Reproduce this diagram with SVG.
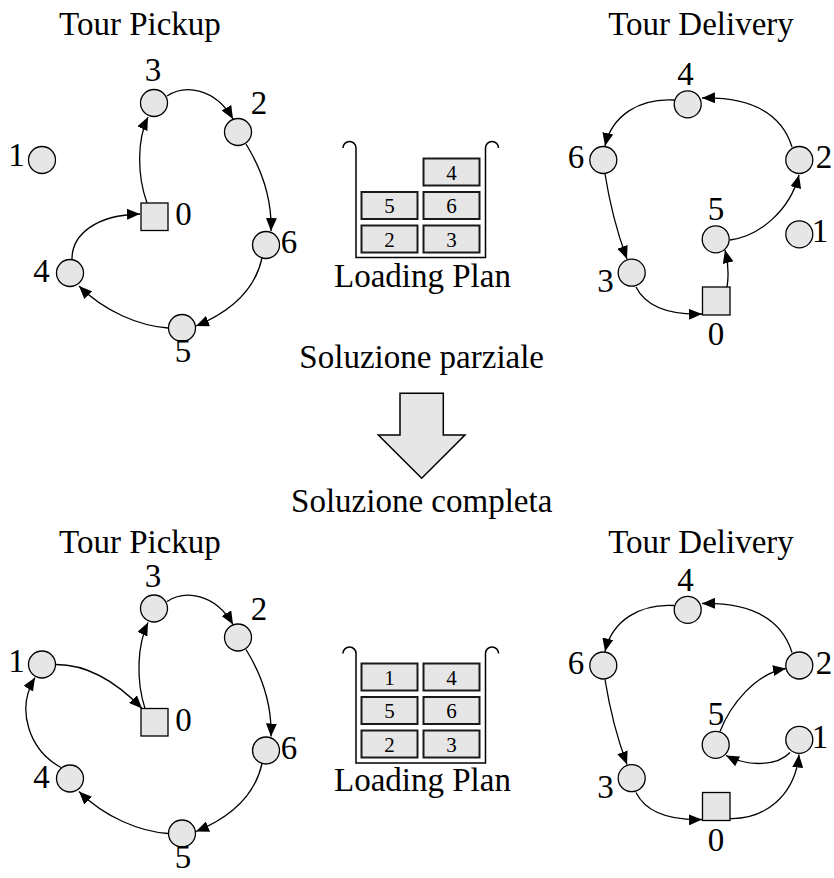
<svg xmlns="http://www.w3.org/2000/svg" width="834" height="878" viewBox="0 0 834 878">
  <defs>
    <marker id="arrow" markerUnits="userSpaceOnUse" viewBox="0 0 13 11" markerWidth="13" markerHeight="11" refX="13" refY="5.5" orient="auto">
      <path d="M0,0 L13,5.5 L0,11 z" fill="#000"/>
    </marker>
  </defs>
  <style>
    text { font-family: "Liberation Serif", "Times New Roman", serif; fill: #000; }
    .title { font-size: 33px; text-anchor: middle; }
    .lbl { font-size: 33px; text-anchor: middle; }
    .box-lbl { font-size: 21px; text-anchor: middle; }
    .node { fill: #e6e6e6; stroke: #000; stroke-width: 1.3; }
    .edge { fill: none; stroke: #000; stroke-width: 1.3; marker-end: url(#arrow); }
    .crate { fill: none; stroke: #000; stroke-width: 1.5; }
    .box { fill: #e6e6e6; stroke: #1a1a1a; stroke-width: 2; }
    .big-arrow { fill: #e6e6e6; stroke: #000; stroke-width: 1.5; }
  </style>

  <!-- ===== Partial solution ===== -->
  <g id="partial">
    <text class="title" x="140" y="35">Tour Pickup</text>
    <text class="title" x="701" y="35">Tour Delivery</text>

    <!-- pickup tour -->
    <g id="pickup-top-edges">
      <path class="edge" d="M147,203 C137,175 137,140 148,117"/>
      <path class="edge" d="M167,96 C185,84 215,88 233,119"/>
      <path class="edge" d="M246,144 C262,170 272,200 271,231"/>
      <path class="edge" d="M262,258 C255,290 230,312 196,326"/>
      <path class="edge" d="M168,328 C140,326 105,312 79,286"/>
      <path class="edge" d="M72,259 C72,235 95,215 140,214"/>
    </g>
    <g id="p1-n0"><rect class="node" x="141" y="203" width="27" height="27.5"/><text class="lbl" x="183.5" y="225">0</text></g>
    <g id="p1-n1"><circle class="node" cx="42" cy="160" r="13.5"/><text class="lbl" x="16.5" y="166">1</text></g>
    <g id="p1-n2"><circle class="node" cx="238" cy="132" r="13.5"/><text class="lbl" x="259" y="114">2</text></g>
    <g id="p1-n3"><circle class="node" cx="154" cy="103" r="13.5"/><text class="lbl" x="153" y="81">3</text></g>
    <g id="p1-n4"><circle class="node" cx="70" cy="273" r="13.5"/><text class="lbl" x="41.5" y="282">4</text></g>
    <g id="p1-n5"><circle class="node" cx="182" cy="328" r="13.5"/><text class="lbl" x="183" y="362">5</text></g>
    <g id="p1-n6"><circle class="node" cx="266" cy="245" r="13.5"/><text class="lbl" x="289" y="253">6</text></g>

    <!-- loading plan -->
    <g id="plan-top">
      <path class="crate" d="M343,148 A6.5,6.5 0 0 1 356,148 L356,257.5 L485.5,257.5 L485.5,148 A6.5,6.5 0 0 1 498.5,148"/>
      <g><rect class="box" x="423.5" y="158.5" width="56" height="27"/><text class="box-lbl" x="451.5" y="179.5">4</text></g>
      <g><rect class="box" x="361.5" y="192" width="56" height="27"/><text class="box-lbl" x="389.5" y="213">5</text></g>
      <g><rect class="box" x="423.5" y="192" width="56" height="27"/><text class="box-lbl" x="451.5" y="213">6</text></g>
      <g><rect class="box" x="361.5" y="225.5" width="56" height="27"/><text class="box-lbl" x="389.5" y="246.5">2</text></g>
      <g><rect class="box" x="423.5" y="225.5" width="56" height="27"/><text class="box-lbl" x="451.5" y="246.5">3</text></g>
      <text class="title" x="422.5" y="287">Loading Plan</text>
    </g>

    <!-- delivery tour -->
    <g id="delivery-top-edges">
      <path class="edge" d="M727,287 C729,275 728,262 725,250"/>
      <path class="edge" d="M730,240 C760,236 790,210 799,175"/>
      <path class="edge" d="M792,147 C782,115 755,97 702,98"/>
      <path class="edge" d="M674,100 C640,98 612,115 605,146"/>
      <path class="edge" d="M605,174 C610,205 618,235 627,259"/>
      <path class="edge" d="M636,287 C645,305 665,315 702,314"/>
    </g>
    <g id="d1-n0"><rect class="node" x="702.5" y="287" width="27.5" height="28"/><text class="lbl" x="716" y="345">0</text></g>
    <g id="d1-n1"><circle class="node" cx="799.3" cy="234.3" r="13.5"/><text class="lbl" x="820" y="242">1</text></g>
    <g id="d1-n2"><circle class="node" cx="799.3" cy="160" r="13.5"/><text class="lbl" x="824" y="168">2</text></g>
    <g id="d1-n3"><circle class="node" cx="631.7" cy="272.7" r="13.5"/><text class="lbl" x="605.5" y="292">3</text></g>
    <g id="d1-n4"><circle class="node" cx="687.7" cy="104.3" r="13.5"/><text class="lbl" x="685.5" y="85">4</text></g>
    <g id="d1-n5"><circle class="node" cx="715.7" cy="239.3" r="13.5"/><text class="lbl" x="716" y="219.5">5</text></g>
    <g id="d1-n6"><circle class="node" cx="603.3" cy="160" r="13.5"/><text class="lbl" x="576" y="168">6</text></g>
  </g>

  <!-- ===== Transition ===== -->
  <text class="title" x="421.7" y="368">Soluzione parziale</text>
  <polygon id="step-arrow" class="big-arrow" points="400,393.3 443.3,393.3 443.3,435 465,435 421.7,478.3 378.3,435 400,435"/>
  <text class="title" x="421.7" y="511.5">Soluzione completa</text>

  <!-- ===== Complete solution ===== -->
  <text class="title" x="140" y="553">Tour Pickup</text>
  <text class="title" x="701" y="553">Tour Delivery</text>

  <g id="complete" transform="translate(0,505.5)">
    <!-- pickup tour -->
    <g id="pickup-bottom-edges">
      <path class="edge" d="M145,203 C136,175 137,140 148,117"/>
      <path class="edge" d="M167,96 C185,84 215,88 233,119"/>
      <path class="edge" d="M246,144 C262,170 272,200 271,231"/>
      <path class="edge" d="M262,258 C255,290 230,312 196,326"/>
      <path class="edge" d="M168,328 C140,326 105,312 79,286"/>
      <path class="edge" d="M61,262 C30,245 15,205 35,172"/>
      <path class="edge" d="M56,159 C85,159 115,175 142,203"/>
    </g>
    <g id="p2-n0"><rect class="node" x="141" y="203" width="27" height="27.5"/><text class="lbl" x="183.5" y="225">0</text></g>
    <g id="p2-n1"><circle class="node" cx="42" cy="159" r="13.5"/><text class="lbl" x="16.5" y="166">1</text></g>
    <g id="p2-n2"><circle class="node" cx="238" cy="132" r="13.5"/><text class="lbl" x="259" y="114">2</text></g>
    <g id="p2-n3"><circle class="node" cx="154" cy="103" r="13.5"/><text class="lbl" x="153" y="81">3</text></g>
    <g id="p2-n4"><circle class="node" cx="70" cy="273" r="13.5"/><text class="lbl" x="41.5" y="282">4</text></g>
    <g id="p2-n5"><circle class="node" cx="182" cy="328" r="13.5"/><text class="lbl" x="183" y="362">5</text></g>
    <g id="p2-n6"><circle class="node" cx="266" cy="245" r="13.5"/><text class="lbl" x="289" y="253">6</text></g>

    <!-- loading plan -->
    <g id="plan-bottom">
      <path class="crate" d="M343,148 A6.5,6.5 0 0 1 356,148 L356,257.5 L485.5,257.5 L485.5,148 A6.5,6.5 0 0 1 498.5,148"/>
      <g><rect class="box" x="361.5" y="158" width="56" height="27"/><text class="box-lbl" x="389.5" y="179">1</text></g>
      <g><rect class="box" x="423.5" y="158" width="56" height="27"/><text class="box-lbl" x="451.5" y="179">4</text></g>
      <g><rect class="box" x="361.5" y="191.5" width="56" height="27"/><text class="box-lbl" x="389.5" y="212.5">5</text></g>
      <g><rect class="box" x="423.5" y="191.5" width="56" height="27"/><text class="box-lbl" x="451.5" y="212.5">6</text></g>
      <g><rect class="box" x="361.5" y="225" width="56" height="27"/><text class="box-lbl" x="389.5" y="246">2</text></g>
      <g><rect class="box" x="423.5" y="225" width="56" height="27"/><text class="box-lbl" x="451.5" y="246">3</text></g>
      <text class="title" x="422.5" y="285">Loading Plan</text>
    </g>

    <!-- delivery tour -->
    <g id="delivery-bottom-edges">
      <path class="edge" d="M730,313 C765,314 795,290 799,249"/>
      <path class="edge" d="M790,247 C778,260 750,262 726,250"/>
      <path class="edge" d="M720,226 C730,200 755,168 786,163"/>
      <path class="edge" d="M792,147 C782,115 755,97 702,98"/>
      <path class="edge" d="M674,100 C640,98 612,115 605,146"/>
      <path class="edge" d="M605,174 C610,205 618,235 627,259"/>
      <path class="edge" d="M636,287 C645,305 665,315 702,314"/>
    </g>
    <g id="d2-n0"><rect class="node" x="702.5" y="287" width="27.5" height="28"/><text class="lbl" x="716" y="345">0</text></g>
    <g id="d2-n1"><circle class="node" cx="799.3" cy="234.3" r="13.5"/><text class="lbl" x="820" y="242">1</text></g>
    <g id="d2-n2"><circle class="node" cx="799.3" cy="160" r="13.5"/><text class="lbl" x="824" y="168">2</text></g>
    <g id="d2-n3"><circle class="node" cx="631.7" cy="272.7" r="13.5"/><text class="lbl" x="605.5" y="292">3</text></g>
    <g id="d2-n4"><circle class="node" cx="687.7" cy="104.3" r="13.5"/><text class="lbl" x="685.5" y="85">4</text></g>
    <g id="d2-n5"><circle class="node" cx="715.7" cy="239.3" r="13.5"/><text class="lbl" x="716" y="219.5">5</text></g>
    <g id="d2-n6"><circle class="node" cx="603.3" cy="160" r="13.5"/><text class="lbl" x="576" y="168">6</text></g>
  </g>
</svg>
